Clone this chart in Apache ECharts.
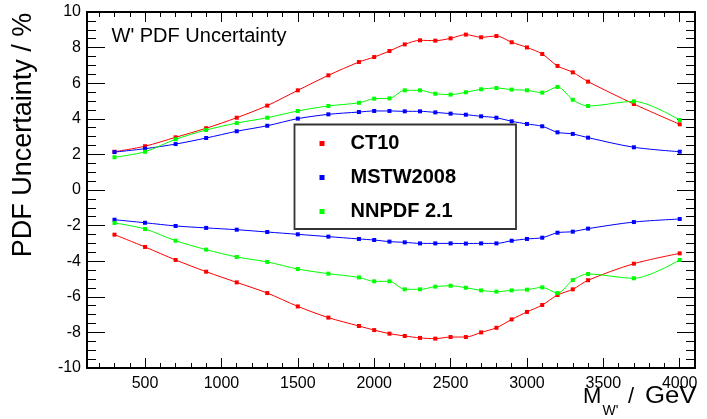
<!DOCTYPE html>
<html>
<head>
<meta charset="utf-8">
<script src="https://cdn.jsdelivr.net/npm/echarts@6/dist/echarts.min.js"></script>
<style>
html,body{margin:0;padding:0;background:#fff;}
#chart{width:707px;height:419px;}
</style>
</head>
<body>
<div id="chart"></div>
<script>
// ---- data ----
var massPoints = [300,500,700,900,1100,1300,1500,1700,1900,2000,2100,2200,2300,2400,2500,2600,2700,2800,2900,3000,3100,3200,3300,3400,3700,4000];
var ct10Up   = [2.15,2.46,2.96,3.47,4.06,4.74,5.60,6.44,7.19,7.47,7.81,8.18,8.41,8.39,8.52,8.73,8.58,8.65,8.30,8.01,7.64,6.97,6.61,6.09,4.83,3.69];
var ct10Down = [-2.51,-3.20,-3.93,-4.59,-5.19,-5.79,-6.54,-7.17,-7.64,-7.87,-8.07,-8.20,-8.31,-8.35,-8.26,-8.26,-8.00,-7.74,-7.27,-6.85,-6.46,-5.90,-5.58,-5.07,-4.14,-3.56];
var mstwUp   = [2.13,2.32,2.58,2.92,3.30,3.61,4.01,4.25,4.38,4.44,4.44,4.42,4.42,4.36,4.29,4.23,4.14,4.06,3.86,3.71,3.58,3.24,3.15,2.94,2.40,2.15];
var mstwDown = [-1.67,-1.84,-2.02,-2.13,-2.23,-2.36,-2.49,-2.62,-2.75,-2.81,-2.90,-2.94,-3.00,-3.00,-3.00,-3.01,-3.00,-3.00,-2.85,-2.75,-2.68,-2.40,-2.34,-2.17,-1.80,-1.63];
var nnpdfUp  = [1.84,2.15,2.85,3.37,3.76,4.06,4.44,4.72,4.90,5.13,5.15,5.60,5.60,5.41,5.36,5.49,5.66,5.73,5.64,5.60,5.47,5.79,5.07,4.72,4.98,3.93];
var nnpdfDown= [-1.85,-2.19,-2.85,-3.35,-3.76,-4.04,-4.44,-4.70,-4.91,-5.13,-5.13,-5.58,-5.58,-5.43,-5.38,-5.49,-5.64,-5.71,-5.64,-5.60,-5.47,-5.79,-5.06,-4.72,-4.96,-3.93];
var seriesNames = ['CT10','MSTW2008','NNPDF 2.1'];
var xMajorTicks = [500,1000,1500,2000,2500,3000,3500,4000];
var xMinorTicks = [200,300,400,600,700,800,900,1100,1200,1300,1400,1600,1700,1800,1900,2100,2200,2300,2400,2600,2700,2800,2900,3100,3200,3300,3400,3600,3700,3800,3900,4100];

var FONT = '"Liberation Sans", Arial, Helvetica, sans-serif';
var XMIN = 120, XMAX = 4100;

function pairs(ys){ return massPoints.map(function(x,i){ return [x, ys[i]]; }); }

var chart = echarts.init(document.getElementById('chart'), null, {renderer:'canvas'});

function xAxisDef(pos, ticks, len, showLine, showLabels){
  return {
    type:'value', min:XMIN, max:XMAX, position:pos, gridIndex:0,
    axisLine:{show:showLine, onZero:false, lineStyle:{color:'#000', width:2}},
    axisTick:{show:true, inside:true, length:len, customValues:ticks, lineStyle:{color:'#000', width:1}},
    axisLabel:{show:showLabels, customValues:xMajorTicks, margin:8, fontSize:16, color:'#000', fontFamily:FONT,
               formatter:function(v){ return String(v); }},
    splitLine:{show:false}
  };
}
function yAxisDef(pos, showLabels){
  return {
    type:'value', min:-10, max:10, interval:2, position:pos,
    axisLine:{show:true, onZero:false, lineStyle:{color:'#000', width:2}},
    axisTick:{show:true, inside:true, length:18, lineStyle:{color:'#000', width:1}},
    minorTick:{show:true, splitNumber:4, length:9, lineStyle:{color:'#000', width:1}},
    axisLabel:{show:showLabels, margin:6, fontSize:16, color:'#000', fontFamily:FONT},
    splitLine:{show:false}, minorSplitLine:{show:false}
  };
}

var colors = {'CT10':'#ff0000','MSTW2008':'#0000ff','NNPDF 2.1':'#00ff00'};
function lineSeries(name, ys){
  return {
    name:name, type:'line', xAxisIndex:0, yAxisIndex:0,
    data:pairs(ys), smooth:0.3, symbol:'rect', symbolSize:4, showSymbol:true,
    lineStyle:{color:colors[name], width:1}, itemStyle:{color:colors[name]},
    emphasis:{disabled:true}, z:3
  };
}

var option = {
  animation:false,
  backgroundColor:'#fff',
  grid:{left:87, top:12, width:608, height:356, containLabel:false},
  xAxis:[
    xAxisDef('bottom', xMajorTicks, 10, true, true),
    xAxisDef('bottom', xMinorTicks, 5, false, false),
    xAxisDef('top', xMajorTicks, 10, true, false),
    xAxisDef('top', xMinorTicks, 5, false, false)
  ],
  yAxis:[ yAxisDef('left', true), yAxisDef('right', false) ],
  legend:{
    show:true, orient:'vertical', left:314.5, top:128, itemGap:13,
    icon:'rect', itemWidth:5, itemHeight:5, selectedMode:false,
    data:seriesNames,
    textStyle:{fontSize:20, fontWeight:'bold', color:'#000', fontFamily:FONT, lineHeight:21, padding:[0,0,0,21]},
    z:10
  },
  series:[
    lineSeries('CT10', ct10Up), lineSeries('CT10', ct10Down),
    lineSeries('MSTW2008', mstwUp), lineSeries('MSTW2008', mstwDown),
    lineSeries('NNPDF 2.1', nnpdfUp), lineSeries('NNPDF 2.1', nnpdfDown)
  ],
  graphic:[
    {type:'rect', z:5, shape:{x:294.5, y:124.5, width:221.5, height:104.5},
     style:{fill:'#fff', stroke:'#333', lineWidth:1.8}},
    {type:'text', z:6, x:111.5, y:36,
     style:{text:"W' PDF Uncertainty", font:'20px '+FONT, fill:'#000', textAlign:'left', textVerticalAlign:'middle'}},
    {type:'text', z:6, x:24, y:135, rotation:Math.PI/2,
     style:{text:'PDF Uncertainty / %', font:'27px '+FONT, fill:'#000', textAlign:'center', textVerticalAlign:'middle'}},
    {type:'text', z:6, x:583, y:397,
     style:{text:'M', font:'22px '+FONT, fill:'#000', textAlign:'left', textVerticalAlign:'middle'}},
    {type:'text', z:6, x:602.5, y:411.5,
     style:{text:"W'", font:'14px '+FONT, fill:'#000', textAlign:'left', textVerticalAlign:'middle'}},
    {type:'text', z:6, x:628, y:397,
     style:{text:'/', font:'22px '+FONT, fill:'#000', textAlign:'left', textVerticalAlign:'middle'}},
    {type:'text', z:6, x:645, y:397, scaleX:1.12,
     style:{text:'GeV', font:'23px '+FONT, fill:'#000', textAlign:'left', textVerticalAlign:'middle'}}
  ]
};
chart.setOption(option);
</script>
</body>
</html>
